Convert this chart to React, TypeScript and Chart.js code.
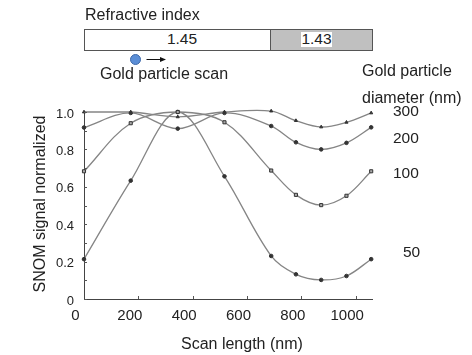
import React, { useEffect, useRef } from 'react';
import { Chart, registerables } from 'chart.js';

Chart.register(...registerables);

// Scan length (nm)
const scanLength = [0, 172, 345, 517, 689, 780, 873, 966, 1057];
// SNOM signal normalized, per gold particle diameter
const d300 = [1.0, 1.0, 0.974, 1.0, 1.005, 0.954, 0.92, 0.945, 0.995];
const d200 = [0.917, 0.995, 0.911, 0.995, 0.925, 0.838, 0.8, 0.835, 0.918];
const d100 = [0.683, 0.94, 1.0, 0.945, 0.687, 0.557, 0.502, 0.552, 0.683];
const d50 = [0.213, 0.633, 1.0, 0.656, 0.23, 0.132, 0.102, 0.123, 0.213];

const seriesLabels = ['300', '200', '100', '50'];
const seriesValues = [d300, d200, d100, d50];
const seriesMarkers = ['triangle', 'circle', 'rect', 'circle'];

const FONT = '"Liberation Sans", Arial, sans-serif';

const insideTicks = {
  id: 'insideTicks',
  afterDraw(chart: any) {
    const { ctx } = chart;
    const x = chart.scales.x;
    const y = chart.scales.y;
    ctx.save();
    ctx.strokeStyle = '#555';
    ctx.lineWidth = 1;
    ctx.beginPath();
    y.ticks.forEach((t: any) => {
      const py = Math.round(y.getPixelForValue(t.value)) + 0.5;
      ctx.moveTo(x.left, py);
      ctx.lineTo(x.left + 3, py);
    });
    x.ticks.forEach((t: any) => {
      if (t.value === 0) return;
      const px = Math.round(x.getPixelForValue(t.value)) + 0.5;
      ctx.moveTo(px, y.bottom);
      ctx.lineTo(px, y.bottom - 3);
    });
    ctx.stroke();
    ctx.restore();
  },
};

function Txt(props: { left: number; baseline: number; size: number; children: any; style?: any }) {
  const { left, baseline, size, children, style } = props;
  return (
    <div
      style={{
        position: 'absolute',
        left,
        top: baseline - 0.8465 * size,
        fontFamily: FONT,
        fontSize: size,
        lineHeight: 1,
        color: '#222',
        whiteSpace: 'nowrap',
        ...style,
      }}
    >
      {children}
    </div>
  );
}

export default function App() {
  const canvasRef = useRef<HTMLCanvasElement>(null);

  useEffect(() => {
    const canvas = canvasRef.current;
    if (!canvas) return;
    const datasets = seriesValues.map((vals, i) => ({
      label: seriesLabels[i],
      data: vals.map((v, j) => ({ x: scanLength[j], y: v })),
      borderColor: '#858585',
      borderWidth: 1.3,
      tension: 0.35,
      pointRadius: seriesMarkers[i] === 'rect' ? 2.2 : 1.8,
      pointStyle: seriesMarkers[i] as any,
      pointBackgroundColor: seriesMarkers[i] === 'rect' ? '#aaa' : '#333',
      pointBorderColor: '#333',
      pointBorderWidth: 1,
      clip: false as any,
      fill: false,
    }));
    const chart = new Chart(canvas, {
      type: 'line',
      data: { datasets },
      options: {
        animation: false,
        responsive: false,
        devicePixelRatio: 1,
        layout: { padding: { top: 112, right: 100, bottom: 0, left: 0 } },
        plugins: { legend: { display: false }, tooltip: { enabled: false } },
        scales: {
          x: {
            type: 'linear',
            min: 0,
            max: 1060,
            grid: { display: false, drawTicks: false },
            border: { display: true, color: '#444', width: 1 },
            ticks: {
              stepSize: 200,
              includeBounds: false,
              padding: 8,
              labelOffset: -8.5,
              color: '#222',
              font: { family: FONT, size: 15 },
              maxRotation: 0,
              callback: (v: any) => String(Math.round(Number(v))),
            },
            afterFit: (s: any) => {
              s.height = 56;
            },
          },
          y: {
            type: 'linear',
            min: 0,
            max: 1,
            grid: { display: false, drawTicks: false },
            border: { display: true, color: '#444', width: 1 },
            ticks: {
              stepSize: 0.1,
              autoSkip: false,
              padding: 10,
              labelOffset: 2,
              color: '#222',
              font: { family: FONT, size: 13 },
              callback: (v: any) => {
                const n = Math.round(Number(v) * 10);
                if (n % 2 !== 0) return '';
                return n === 0 ? '0' : (n / 10).toFixed(1);
              },
            },
            afterFit: (s: any) => {
              s.width = 84;
            },
          },
        },
      },
      plugins: [insideTicks],
    });
    return () => chart.destroy();
  }, []);

  return (
    <div style={{ position: 'fixed', left: 0, top: 0, width: 472, height: 355, background: '#fff', overflow: 'hidden' }}>
      <canvas ref={canvasRef} width={472} height={355} style={{ position: 'absolute', left: 0, top: 0, width: 472, height: 355 }} />

      {/* refractive index bar */}
      <Txt left={85} baseline={21} size={16}>Refractive index</Txt>
      <div style={{ position: 'absolute', left: 84, top: 29, width: 186, height: 20, border: '1px solid #555', borderRight: 'none', background: '#fff' }} />
      <div style={{ position: 'absolute', left: 270, top: 29, width: 101, height: 20, border: '1px solid #555', background: '#c0c0c0' }} />
      <Txt left={166} baseline={44} size={15.5} style={{ width: 32, textAlign: 'center' }}>1.45</Txt>
      <div style={{ position: 'absolute', left: 301, top: 32, width: 31, height: 15, background: '#fff' }} />
      <Txt left={301} baseline={44} size={15.5} style={{ width: 31, textAlign: 'center' }}>1.43</Txt>

      {/* gold particle scan marker */}
      <div style={{ position: 'absolute', left: 130, top: 54, width: 9, height: 9, borderRadius: '50%', background: '#5b8ed6', border: '1px solid #3d68a8' }} />
      <svg style={{ position: 'absolute', left: 144, top: 54, width: 26, height: 11 }} viewBox="0 0 26 11">
        <line x1="2.5" y1="5.5" x2="18" y2="5.5" stroke="#111" strokeWidth="1" />
        <polygon points="22,5.5 16,3 16,8" fill="#111" />
      </svg>
      <Txt left={100} baseline={79.5} size={16}>Gold particle scan</Txt>

      {/* legend-like labels */}
      <Txt left={362} baseline={76.5} size={16}>Gold particle</Txt>
      <Txt left={362} baseline={103.5} size={16}>diameter (nm)</Txt>
      <Txt left={393} baseline={116.5} size={15.5}>{seriesLabels[0]}</Txt>
      <Txt left={393} baseline={143} size={15.5}>{seriesLabels[1]}</Txt>
      <Txt left={393} baseline={178} size={15.5}>{seriesLabels[2]}</Txt>
      <Txt left={403} baseline={257} size={15.5}>{seriesLabels[3]}</Txt>

      {/* axis titles */}
      <Txt left={181} baseline={349.5} size={16}>Scan length (nm)</Txt>
      <div
        style={{
          position: 'absolute',
          left: 39.5 - 110,
          top: 203.5 - 8,
          width: 220,
          height: 16,
          fontFamily: FONT,
          fontSize: 16,
          lineHeight: 1,
          color: '#222',
          textAlign: 'center',
          whiteSpace: 'nowrap',
          transform: 'rotate(-90deg)',
        }}
      >
        SNOM signal normalized
      </div>
    </div>
  );
}
